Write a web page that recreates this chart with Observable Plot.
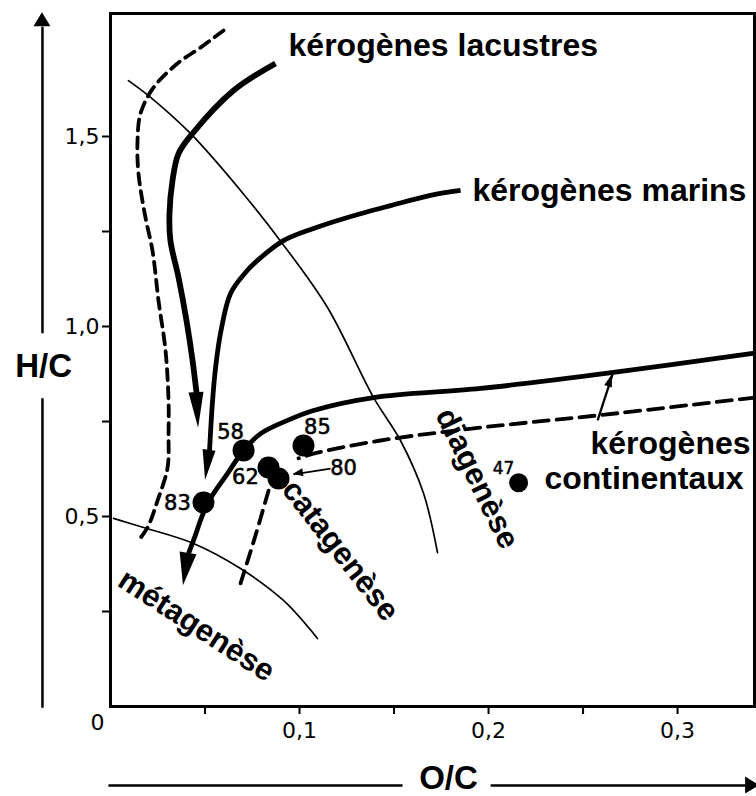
<!DOCTYPE html>
<html>
<head>
<meta charset="utf-8">
<script src="https://cdn.jsdelivr.net/npm/d3@7"></script>
<script src="https://cdn.jsdelivr.net/npm/@observablehq/plot@0.6"></script>
<style>
  html, body { margin: 0; padding: 0; background: #fff; }
  #chart svg [aria-label="x-axis tick"] path,
  #chart svg [aria-label="y-axis tick"] path,
  #chart svg g[aria-label*="axis"] .tick line { stroke-width: 2px; }
  #chart svg g[aria-label*="axis"] text {
    font-size: 22px !important;
    font-family: "DejaVu Sans", Verdana, sans-serif !important;
  }
</style>
</head>
<body>
<div id="chart"></div>
<script>
// ---------- data (O/C on x, H/C on y) ----------
const xTicks = [0.05, 0.1, 0.15, 0.2, 0.25, 0.3];
const xTickLabels = ["", "0,1", "", "0,2", "", "0,3"];
const yTicks = [0.25, 0.5, 0.75, 1.0, 1.25, 1.5];
const yTickLabels = ["", "0,5", "", "1,0", "", "1,5"];

// évolution des kérogènes lacustres (type I)
const lacustres = [
  {x: 0.0873, y: 1.692}, {x: 0.0651, y: 1.621}, {x: 0.0434, y: 1.508}, {x: 0.0360, y: 1.455},
  {x: 0.0328, y: 1.384}, {x: 0.0312, y: 1.297}, {x: 0.0317, y: 1.226}, {x: 0.0360, y: 1.129},
  {x: 0.0402, y: 1.016}, {x: 0.0434, y: 0.911}, {x: 0.0455, y: 0.826}
];
const lacustresTip = {x: 0.0466, y: 0.732};

// kérogènes marins (type II)
const marins = [
  {x: 0.1852, y: 1.358}, {x: 0.1693, y: 1.345}, {x: 0.1481, y: 1.318}, {x: 0.1254, y: 1.287},
  {x: 0.1074, y: 1.258}, {x: 0.0915, y: 1.226}, {x: 0.0778, y: 1.174}, {x: 0.0714, y: 1.142},
  {x: 0.0635, y: 1.087}, {x: 0.0582, y: 0.982}, {x: 0.0556, y: 0.892}, {x: 0.0540, y: 0.805},
  {x: 0.0524, y: 0.674}
];
const marinsTip = {x: 0.0503, y: 0.595};

// kérogènes continentaux (type III)
const continentaux = [
  {x: 0.3407, y: 0.930}, {x: 0.2661, y: 0.879}, {x: 0.1958, y: 0.837}, {x: 0.1392, y: 0.813},
  {x: 0.1074, y: 0.779}, {x: 0.0937, y: 0.753}, {x: 0.0794, y: 0.718}, {x: 0.0704, y: 0.674},
  {x: 0.0619, y: 0.613}, {x: 0.0513, y: 0.534}, {x: 0.0439, y: 0.437}, {x: 0.0413, y: 0.403}
];
const continentauxTip = {x: 0.0386, y: 0.318};

const continentauxDash = [
  {x: 0.3407, y: 0.813}, {x: 0.2577, y: 0.766}, {x: 0.1958, y: 0.734}, {x: 0.1429, y: 0.700},
  {x: 0.1095, y: 0.668}, {x: 0.0995, y: 0.653}
];
const catageneseDash = [
  {x: 0.0836, y: 0.568}, {x: 0.0767, y: 0.450}, {x: 0.0688, y: 0.324}
];
const limiteGauche = [
  {x: 0.0598, y: 1.779}, {x: 0.0476, y: 1.734}, {x: 0.0354, y: 1.692}, {x: 0.0228, y: 1.629},
  {x: 0.0159, y: 1.561}, {x: 0.0143, y: 1.489}, {x: 0.0148, y: 1.403}, {x: 0.0185, y: 1.287},
  {x: 0.0222, y: 1.200}, {x: 0.0254, y: 1.068}, {x: 0.0291, y: 0.937}, {x: 0.0307, y: 0.805},
  {x: 0.0307, y: 0.718}, {x: 0.0302, y: 0.629}, {x: 0.0249, y: 0.542}, {x: 0.0196, y: 0.471},
  {x: 0.0148, y: 0.437}
];
const limiteDiagenese = [
  {x: 0.0095, y: 1.647}, {x: 0.0212, y: 1.603}, {x: 0.0423, y: 1.508}, {x: 0.0688, y: 1.358},
  {x: 0.0910, y: 1.218}, {x: 0.1148, y: 1.050}, {x: 0.1392, y: 0.813}, {x: 0.1534, y: 0.700},
  {x: 0.1656, y: 0.561}, {x: 0.1730, y: 0.405}
];
const limiteMetagenese = [
  {x: 0.0016, y: 0.495}, {x: 0.0175, y: 0.471}, {x: 0.0439, y: 0.429}, {x: 0.0688, y: 0.363},
  {x: 0.0915, y: 0.279}, {x: 0.1095, y: 0.179}
];

// échantillons
const sampleIds = ["58", "83", "62", "80", "85", "47"];
const sampleOC = [0.0704, 0.0492, 0.0836, 0.0889, 0.1021, 0.2159];
const sampleHC = [0.674, 0.537, 0.629, 0.600, 0.687, 0.589];
const sampleLabelOC = [0.0635, 0.0354, 0.0714, 0.1233, 0.1095, 0.2079];
const sampleLabelHC = [0.721, 0.534, 0.603, 0.626, 0.734, 0.626];
const samples = sampleIds.map((id, i) => ({id, x: sampleOC[i], y: sampleHC[i], lx: sampleLabelOC[i], ly: sampleLabelHC[i]}));

// pointeurs
const pointer80 = {x1: 0.1164, y1: 0.626, x2: 0.0968, y2: 0.611};
const pointerCont = {x1: 0.2577, y1: 0.753, x2: 0.2656, y2: 0.874};

// textes
const typeLabelsStart = [
  {text: "kérogènes lacustres", x: 0.0942, y: 1.739},
  {text: "kérogènes marins", x: 0.1915, y: 1.358}
];
const typeLabelsEnd = [
  {text: "kérogènes", x: 0.3386, y: 0.692},
  {text: "continentaux", x: 0.3349, y: 0.600}
];
const zoneLabels = [
  {text: "diagenèse", x: 0.1940, y: 0.600, angle: 64},
  {text: "catagenèse", x: 0.1217, y: 0.411, angle: 52},
  {text: "métagenèse", x: 0.0455, y: 0.213, angle: 33}
];

// flèches des axes
const axisYArrow = [{x: -0.0360, y1: -0.003, y2: 0.811}, {x: -0.0360, y1: 0.982, y2: 1.789}];
const axisYTip = {x: -0.0360, y: 1.826};
const axisXArrow = [{y: -0.208, x1: -0.0011, x2: 0.1545}, {y: -0.208, x1: 0.2011, x2: 0.3360}];
const axisXTip = {x: 0.3434, y: -0.208};
const axisTitles = [{text: "H/C", x: -0.0354, y: 0.895}, {text: "O/C", x: 0.1788, y: -0.190}];
const originLabel = [{text: "0", x: 0, y: 0}];

// ---------- helpers ----------
// filled arrowheads: tip at `to`, oriented from `from`; len (px) optional, w (px) width
function arrowHeads(list) {
  return (index, scales) => {
    const g = d3.create("svg:g").attr("aria-label", "arrowheads");
    for (const h of list) {
      const fx = scales.x(h.from.x), fy = scales.y(h.from.y);
      const tx = scales.x(h.to.x), ty = scales.y(h.to.y);
      const dx = tx - fx, dy = ty - fy, L = Math.hypot(dx, dy) || 1;
      const len = h.len ?? L;
      const bx = tx - dx / L * len, by = ty - dy / L * len;
      const nx = -dy / L * h.w / 2, ny = dx / L * h.w / 2;
      g.append("path")
        .attr("d", `M${tx},${ty}L${bx + nx},${by + ny}L${bx - nx},${by - ny}Z`)
        .attr("fill", "black");
    }
    return g.node();
  };
}

const curve = "catmull-rom";
const font = "Liberation Sans, Arial, sans-serif";
const numFont = "DejaVu Sans, Verdana, sans-serif";
const bold = {fontWeight: "bold", fontFamily: font, fill: "black"};

const plot = Plot.plot({
  width: 756,
  height: 796,
  marginLeft: 110,
  marginRight: 2,
  marginTop: 13,
  marginBottom: 90,
  style: {fontFamily: numFont, fontSize: "22px", background: "white", color: "black", overflow: "visible"},
  x: {domain: [0, 0.3407], ticks: xTicks, tickFormat: d => xTickLabels[xTicks.indexOf(d)], tickSize: 8, tickPadding: 8, label: null},
  y: {domain: [0, 1.8237], ticks: yTicks, tickFormat: d => yTickLabels[yTicks.indexOf(d)], tickSize: 8, tickPadding: 3, label: null},
  marks: [
    Plot.frame({stroke: "black", strokeWidth: 3}),
    // limites des zones
    Plot.line(limiteDiagenese, {x: "x", y: "y", curve, stroke: "black", strokeWidth: 1.7}),
    Plot.line(limiteMetagenese, {x: "x", y: "y", curve, stroke: "black", strokeWidth: 1.7}),
    Plot.line(limiteGauche, {x: "x", y: "y", curve, stroke: "black", strokeWidth: 3.8, strokeDasharray: "11,7"}),
    Plot.line(catageneseDash, {x: "x", y: "y", curve, stroke: "black", strokeWidth: 3.8, strokeDasharray: "13,8"}),
    Plot.line(continentauxDash, {x: "x", y: "y", curve, stroke: "black", strokeWidth: 3.8, strokeDasharray: "15,8"}),
    // chemins d'évolution
    Plot.line(lacustres, {x: "x", y: "y", curve, stroke: "black", strokeWidth: 5.8, strokeLinecap: "butt"}),
    Plot.line(marins, {x: "x", y: "y", curve, stroke: "black", strokeWidth: 4.8, strokeLinecap: "butt"}),
    Plot.line(continentaux, {x: "x", y: "y", curve, stroke: "black", strokeWidth: 4.8, strokeLinecap: "butt"}),
    arrowHeads([
      {from: lacustres[lacustres.length - 1], to: lacustresTip, w: 15},
      {from: marins[marins.length - 1], to: marinsTip, w: 13},
      {from: continentaux[continentaux.length - 1], to: continentauxTip, w: 17},
      {from: {x: pointer80.x1, y: pointer80.y1}, to: {x: pointer80.x2, y: pointer80.y2}, len: 10, w: 8},
      {from: {x: pointerCont.x1, y: pointerCont.y1}, to: {x: pointerCont.x2, y: pointerCont.y2}, len: 13, w: 8},
      {from: {x: axisYArrow[1].x, y: axisYArrow[1].y2}, to: axisYTip, w: 17},
      {from: {x: axisXArrow[1].x2, y: axisXArrow[1].y}, to: axisXTip, w: 17}
    ]),
    // pointeurs
    Plot.link([pointer80], {x1: "x1", y1: "y1", x2: "x2", y2: "y2", stroke: "black", strokeWidth: 1.7}),
    Plot.link([pointerCont], {x1: "x1", y1: "y1", x2: "x2", y2: "y2", stroke: "black", strokeWidth: 2.3}),
    // échantillons
    Plot.dot(samples.filter(d => d.id !== "47"), {x: "x", y: "y", r: 11, fill: "black"}),
    Plot.dot(samples.filter(d => d.id === "47"), {x: "x", y: "y", r: 9.5, fill: "black"}),
    Plot.text(samples.filter(d => d.id !== "47"), {x: "lx", y: "ly", text: "id", fontFamily: numFont, fontSize: 21, fill: "black", stroke: "black", strokeWidth: 0.6}),
    Plot.text(samples.filter(d => d.id === "47"), {x: "lx", y: "ly", text: "id", fontFamily: numFont, fontSize: 17, fill: "black", stroke: "black", strokeWidth: 0.5}),
    // étiquettes
    Plot.text(typeLabelsStart, {x: "x", y: "y", text: "text", textAnchor: "start", fontSize: 32, ...bold}),
    Plot.text(typeLabelsEnd, {x: "x", y: "y", text: "text", textAnchor: "end", fontSize: 32, ...bold}),
    Plot.text(zoneLabels, {x: "x", y: "y", text: "text", rotate: "angle", fontSize: 31, ...bold}),
    // axes fléchés
    Plot.link(axisYArrow, {x1: "x", x2: "x", y1: "y1", y2: "y2", stroke: "black", strokeWidth: 2.5}),
    Plot.link(axisXArrow, {x1: "x1", x2: "x2", y1: "y", y2: "y", stroke: "black", strokeWidth: 2.5}),
    Plot.text(axisTitles, {x: "x", y: "y", text: "text", fontSize: 33, ...bold}),
    Plot.text(originLabel, {x: "x", y: "y", text: "text", dx: -13, dy: 16, fontFamily: numFont, fontSize: 22, fill: "black"})
  ]
});
document.getElementById("chart").appendChild(plot);
</script>
</body>
</html>
